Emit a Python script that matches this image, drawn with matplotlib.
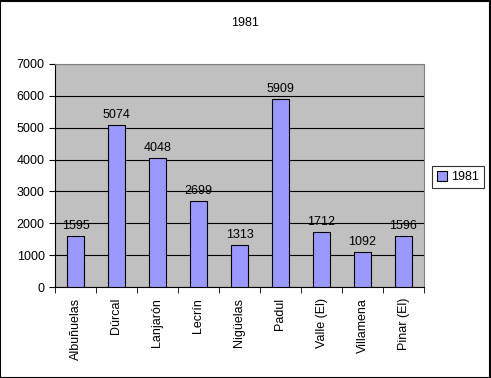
import matplotlib
matplotlib.use("Agg")
import matplotlib.pyplot as plt
import numpy as np

categories = ["Albuñuelas", "Dúrcal", "Lanjarón", "Lecrín", "Nigüelas",
              "Padul", "Valle (El)", "Villamena", "Pinar (El)"]
values = [1595, 5074, 4048, 2699, 1313, 5909, 1712, 1092, 1596]
series_name = "1981"
yticks = [0, 1000, 2000, 3000, 4000, 5000, 6000, 7000]

plt.rcParams['font.family'] = ['Liberation Sans', 'DejaVu Sans']

fig = plt.figure(figsize=(4.91, 3.78), dpi=100)
ax = fig.add_axes([55/491, 1-287/378, 369/491, 223/378])
ax.set_facecolor("#C0C0C0")

x = np.arange(len(categories))
bars = ax.bar(x, values, width=0.4, color="#9999FF", edgecolor="black",
              linewidth=0.8, zorder=3, label=series_name)
for xi, v in zip(x, values):
    ax.annotate(str(v), (xi, v), xytext=(0, 3), textcoords="offset points",
                ha="center", va="bottom", fontsize=9, zorder=4)

ax.set_xlim(-0.5, len(categories) - 0.5)
ax.set_ylim(0, 7000)
ax.set_yticks(yticks)
ax.set_yticklabels([str(t) for t in yticks], fontsize=9)
ax.yaxis.grid(True, color="black", linewidth=0.8, zorder=1)
ax.set_axisbelow(True)

ax.set_xticks(x)
ax.set_xticklabels(categories, rotation=90, fontsize=9)
ax.tick_params(axis="x", length=0, pad=8)
ax.set_xticks(np.arange(-0.5, len(categories)), minor=True)
ax.tick_params(axis="x", which="minor", length=4, direction="out", color="black")
ax.tick_params(axis="y", length=4, direction="out", color="black")

for s in ["top", "right"]:
    ax.spines[s].set_color("#808080")
ax.spines["left"].set_color("black")
ax.spines["bottom"].set_color("black")

fig.text(245/491, 1-23/378, "1981", ha="center", va="center", fontsize=9)

leg = fig.legend(handles=[bars], labels=[series_name], loc="center",
                 bbox_to_anchor=(458/491, 1-177/378), fontsize=9,
                 frameon=True, fancybox=False, edgecolor="black",
                 handlelength=0.8, handleheight=0.8, handletextpad=0.3,
                 borderpad=0.4, borderaxespad=0)
leg.get_frame().set_linewidth(0.8)

fig.patches.append(plt.Rectangle((0.001, 0.001), 0.997, 0.997,
                                 transform=fig.transFigure, fill=False,
                                 edgecolor="black", linewidth=1.5))

fig.savefig("out.png", dpi=100)
